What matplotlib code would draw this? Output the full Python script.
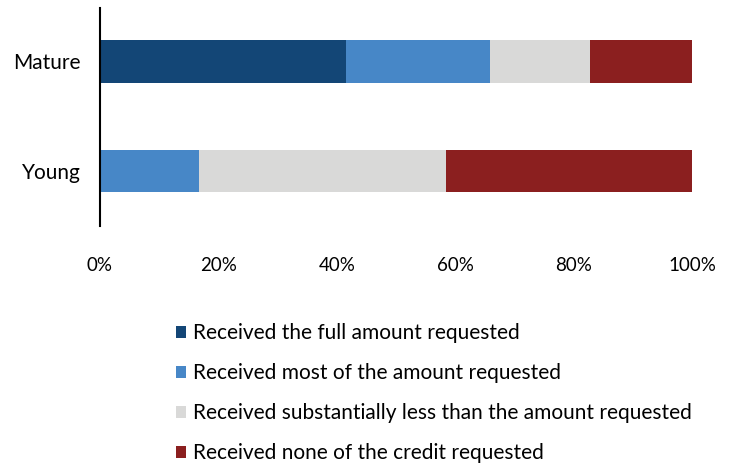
import matplotlib.pyplot as plt
from matplotlib.patches import Patch

plt.rcParams['font.family'] = ['Lato', 'DejaVu Sans']

# Share of firms by credit outcome (%)
groups = ["Young", "Mature"]
full_amount = [0.0, 41.5]
most_amount = [16.8, 24.3]
much_less = [41.6, 16.9]
none_received = [41.6, 17.3]

series = [
    ("Received the full amount requested", full_amount, "#134676"),
    ("Received most of the amount requested", most_amount, "#4787c7"),
    ("Received substantially less than the amount requested", much_less, "#d9d9d8"),
    ("Received none of the credit requested", none_received, "#8b1f1f"),
]
ticks = [0, 20, 40, 60, 80, 100]
tick_labels = ["0%", "20%", "40%", "60%", "80%", "100%"]

fig = plt.figure(figsize=(7.33, 4.66), dpi=100)
ax = fig.add_axes([0.1364, 0.515, 0.808, 0.468])

ypos = list(range(len(groups)))
left = [0.0] * len(groups)
handles = []
for label, vals, color in series:
    ax.barh(ypos, vals, left=left, height=0.39, color=color, edgecolor="none")
    left = [l + v for l, v in zip(left, vals)]
    handles.append(Patch(facecolor=color, edgecolor="none", label=label))

ax.set_xlim(0, 100)
ax.set_ylim(-0.502, 1.489)
ax.set_xticks(ticks)
ax.set_xticklabels(tick_labels, fontsize=13.5)
ax.set_yticks(ypos)
ax.set_yticklabels(groups, fontsize=15)
ax.tick_params(axis="x", length=0, pad=22)
ax.tick_params(axis="y", length=0, pad=14)
for side in ["top", "right", "bottom"]:
    ax.spines[side].set_visible(False)
ax.spines["left"].set_linewidth(1.5)
ax.spines["left"].set_color("black")

fig.legend(handles=handles, loc="upper left", bbox_to_anchor=(0.229, 0.324),
           frameon=False, fontsize=15, handlelength=0.48, handleheight=0.48,
           handletextpad=0.35, labelspacing=0.96, borderaxespad=0)

fig.savefig("out.png", dpi=100)
